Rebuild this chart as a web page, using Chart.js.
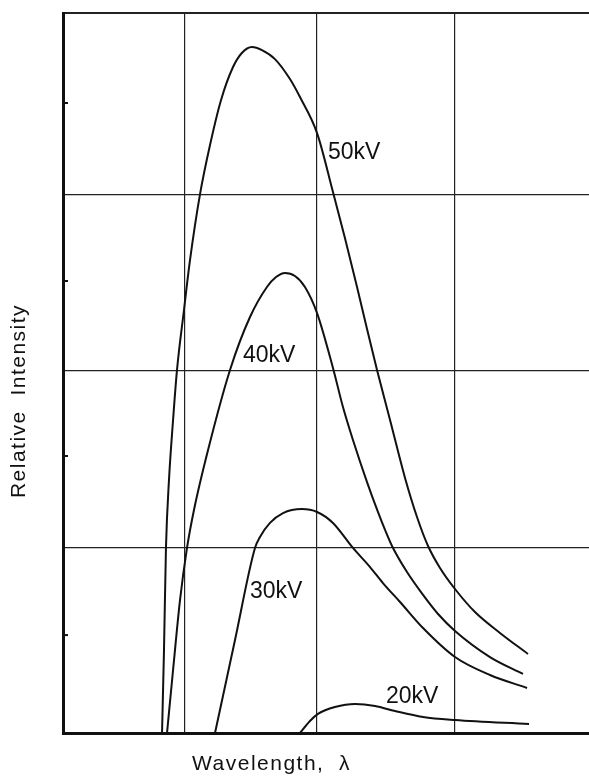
<!DOCTYPE html>
<html>
<head>
<meta charset="utf-8">
<script src="https://cdn.jsdelivr.net/npm/chart.js@4.4.1/dist/chart.umd.min.js"></script>
<style>
  html, body { margin: 0; padding: 0; background: #fff; }
  canvas { display: block; }
</style>
</head>
<body>
<canvas id="chart" width="589" height="776"></canvas>
<script>
// wavelength (arbitrary units) vs relative intensity
const kv50X = [0.753, 0.768, 0.783, 0.806, 0.837, 0.867, 0.92, 0.966, 1.042, 1.118, 1.202, 1.293, 1.36, 1.437, 1.513, 1.612, 1.726, 1.802, 1.932, 2.053, 2.144, 2.236, 2.312, 2.388, 2.487, 2.601, 2.692, 2.776, 2.867, 2.981, 3.133, 3.323, 3.536];
const kv50Y = [0, 0.461, 1.028, 1.406, 1.739, 2.017, 2.35, 2.628, 2.994, 3.267, 3.517, 3.7, 3.778, 3.811, 3.794, 3.744, 3.633, 3.533, 3.333, 3.006, 2.75, 2.478, 2.244, 2.017, 1.739, 1.417, 1.2, 1.039, 0.917, 0.8, 0.672, 0.556, 0.439];

const kv40X = [0.791, 0.837, 0.89, 0.943, 0.996, 1.103, 1.27, 1.422, 1.551, 1.62, 1.688, 1.764, 1.84, 1.932, 2.053, 2.129, 2.205, 2.312, 2.395, 2.449, 2.502, 2.616, 2.738, 2.852, 2.981, 3.247, 3.498];
const kv40Y = [0, 0.35, 0.739, 1.028, 1.239, 1.572, 2.017, 2.311, 2.478, 2.533, 2.556, 2.539, 2.478, 2.333, 2.028, 1.811, 1.628, 1.394, 1.228, 1.128, 1.039, 0.894, 0.767, 0.661, 0.567, 0.422, 0.328];

const kv30X = [1.156, 1.308, 1.46, 1.498, 1.574, 1.673, 1.817, 1.932, 2.053, 2.205, 2.335, 2.433, 2.563, 2.738, 2.981, 3.247, 3.529];
const kv30Y = [0, 0.517, 1.028, 1.089, 1.167, 1.222, 1.244, 1.228, 1.167, 1.028, 0.922, 0.833, 0.728, 0.583, 0.422, 0.322, 0.25];

const kv20X = [1.802, 1.878, 1.939, 2.068, 2.221, 2.373, 2.525, 2.738, 2.981, 3.544];
const kv20Y = [0, 0.067, 0.106, 0.144, 0.161, 0.15, 0.122, 0.089, 0.072, 0.05];

// curve labels and where they sit (left edge, baseline)
const curveLabels = ["50kV", "40kV", "30kV", "20kV"];
const labelX = [2.015, 1.369, 1.422, 2.456];
const labelY = [3.189, 2.061, 0.75, 0.167];

// grid lines and the short ticks on the intensity axis
const xGrid = [0.928, 1.932, 2.981];
const yGrid = [1.031, 2.014, 2.992, 4];
const yMinorTicks = [0.544, 1.539, 2.511, 3.5];

const xTitle = "Wavelength,  \u03bb";
const yTitle = "Relative  Intensity";

function points(xs, ys) {
  return xs.map((x, i) => ({ x, y: ys[i] }));
}

const curve = (data) => ({
  data,
  borderColor: "#111",
  borderWidth: 2,
  pointRadius: 0,
  cubicInterpolationMode: "monotone",
  fill: false,
});

const textPlugin = {
  id: "figureText",
  afterDraw(chart) {
    const { ctx, chartArea, scales } = chart;
    const x = scales.x;
    const y = scales.y;
    ctx.save();
    ctx.fillStyle = "#111";
    ctx.strokeStyle = "#111";

    // little inward ticks on the left axis
    ctx.lineWidth = 2;
    yMinorTicks.forEach((v) => {
      const py = y.getPixelForValue(v);
      ctx.beginPath();
      ctx.moveTo(chartArea.left, py);
      ctx.lineTo(chartArea.left + 5, py);
      ctx.stroke();
    });

    ctx.font = '23px "Liberation Sans", Arial, sans-serif';
    ctx.textBaseline = "alphabetic";
    ctx.textAlign = "left";
    curveLabels.forEach((t, i) => {
      ctx.fillText(t, x.getPixelForValue(labelX[i]), y.getPixelForValue(labelY[i]));
    });

    ctx.font = '21px "Liberation Sans", Arial, sans-serif';
    ctx.letterSpacing = "1.5px";
    ctx.fillText(xTitle, chartArea.left + 129, 770);

    ctx.translate(25, 401);
    ctx.rotate(-Math.PI / 2);
    ctx.textAlign = "center";
    ctx.fillText(yTitle, 0, 0);
    ctx.restore();
  },
};

new Chart(document.getElementById("chart"), {
  type: "line",
  data: {
    datasets: [
      curve(points(kv50X, kv50Y)),
      curve(points(kv40X, kv40Y)),
      curve(points(kv30X, kv30Y)),
      curve(points(kv20X, kv20Y)),
    ],
  },
  options: {
    responsive: false,
    devicePixelRatio: 1,
    animation: false,
    layout: { padding: { left: 63, right: 0, top: 13, bottom: 43 } },
    plugins: {
      legend: { display: false },
      tooltip: { enabled: false },
    },
    scales: {
      x: {
        type: "linear",
        min: 0,
        max: 4,
        afterBuildTicks: (scale) => {
          scale.ticks = xGrid.map((value) => ({ value }));
        },
        ticks: { display: false },
        grid: { color: "#222", lineWidth: 1.2, drawTicks: false },
        border: { color: "#111", width: 3 },
      },
      y: {
        min: 0,
        max: 4,
        afterBuildTicks: (scale) => {
          scale.ticks = yGrid.map((value) => ({ value }));
        },
        ticks: { display: false },
        grid: {
          color: "#222",
          lineWidth: (c) => (c.tick && c.tick.value === 4 ? 2 : 1.2),
          drawTicks: false,
        },
        border: { color: "#111", width: 3 },
      },
    },
  },
  plugins: [textPlugin],
});
</script>
</body>
</html>
